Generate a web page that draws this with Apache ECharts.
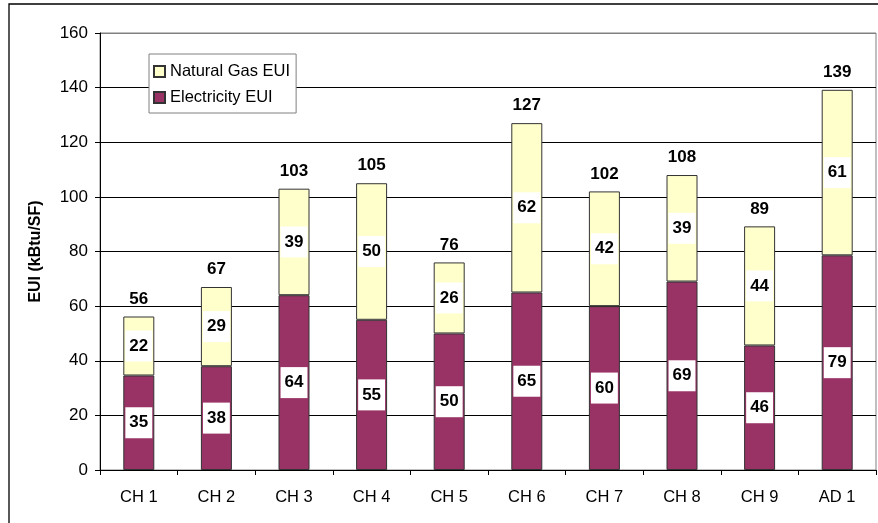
<!DOCTYPE html>
<html>
<head>
<meta charset="utf-8">
<script src="https://cdn.jsdelivr.net/npm/echarts@6/dist/echarts.min.js"></script>
<style>
  html, body { margin: 0; padding: 0; background: #fff; }
  #chart { width: 878px; height: 523px; }
</style>
</head>
<body>
<div id="chart"></div>
<script>
// Building energy use intensity, split by fuel
const categories = ['CH 1', 'CH 2', 'CH 3', 'CH 4', 'CH 5', 'CH 6', 'CH 7', 'CH 8', 'CH 9', 'AD 1'];
const electricityEUI = [34.6, 38, 64, 55, 50, 65, 60, 69, 45.6, 78.6];
const naturalGasEUI = [21.6, 29, 39, 50, 26, 62, 42, 39, 43.6, 60.6];
const yTicks = [0, 20, 40, 60, 80, 100, 120, 140, 160];

const totals = categories.map((_, i) => electricityEUI[i] + naturalGasEUI[i]);

const FONT = '"Liberation Sans", Arial, sans-serif';

const boxLabel = {
  show: true,
  position: 'inside',
  formatter: p => String(Math.round(p.value)),
  color: '#000',
  fontFamily: FONT,
  fontSize: 17,
  fontWeight: 'bold',
  backgroundColor: '#fff',
  padding: [7, 4, 7, 4]
};

const chart = echarts.init(document.getElementById('chart'), null, { renderer: 'canvas' });

chart.setOption({
  animation: false,
  backgroundColor: '#fff',
  graphic: [{
    type: 'rect',
    shape: { x: 9, y: 4, width: 1000, height: 1000 },
    style: { fill: 'none', stroke: '#000', lineWidth: 1.3 },
    silent: true,
    z: 100
  }],
  grid: {
    left: 100, right: 2, top: 33, bottom: 53,
    show: true, borderColor: '#808080', borderWidth: 1
  },
  legend: {
    data: ['Natural Gas EUI', 'Electricity EUI'],
    orient: 'vertical',
    left: 149, top: 54,
    backgroundColor: '#fff',
    borderColor: '#808080',
    borderWidth: 1,
    padding: [9, 6, 7, 4],
    itemWidth: 11, itemHeight: 11,
    itemGap: 9,
    icon: 'rect',
    textStyle: { fontFamily: FONT, fontSize: 16.5, color: '#000' },
    selectedMode: false
  },
  xAxis: {
    type: 'category',
    data: categories,
    boundaryGap: true,
    axisLine: { lineStyle: { color: '#000', width: 1 } },
    axisTick: { show: true, alignWithLabel: false, length: 5, lineStyle: { color: '#000' } },
    axisLabel: { fontFamily: FONT, fontSize: 16.5, color: '#000', margin: 19 }
  },
  yAxis: {
    type: 'value',
    min: yTicks[0],
    max: yTicks[yTicks.length - 1],
    interval: yTicks[1] - yTicks[0],
    name: 'EUI (kBtu/SF)',
    nameLocation: 'middle',
    nameRotate: 90,
    nameGap: 56,
    nameTextStyle: { fontFamily: FONT, fontSize: 16, fontWeight: 'bold', color: '#000' },
    axisLine: { show: true, lineStyle: { color: '#000', width: 1 } },
    axisTick: { show: true, length: 5, lineStyle: { color: '#000' } },
    axisLabel: { fontFamily: FONT, fontSize: 17, color: '#000', margin: 12 },
    splitLine: {
      show: true,
      lineStyle: { color: ['#000', '#000', '#000', '#000', '#000', '#000', '#000', '#000', '#808080'], width: 1 }
    }
  },
  series: [
    {
      name: 'Electricity EUI',
      type: 'bar',
      stack: 'eui',
      barWidth: 31,
      data: electricityEUI,
      itemStyle: { color: '#993366', borderColor: '#333', borderWidth: 1 },
      label: boxLabel
    },
    {
      name: 'Natural Gas EUI',
      type: 'bar',
      stack: 'eui',
      barWidth: 31,
      data: naturalGasEUI,
      itemStyle: { color: '#FFFFCC', borderColor: '#333', borderWidth: 1 },
      label: boxLabel
    },
    {
      name: 'Total',
      type: 'bar',
      stack: 'eui',
      barWidth: 31,
      silent: true,
      data: totals.map(() => 0),
      itemStyle: { color: 'rgba(0,0,0,0)', borderWidth: 0 },
      label: {
        show: true,
        position: 'top',
        distance: 9,
        formatter: p => String(Math.round(totals[p.dataIndex])),
        fontFamily: FONT,
        fontSize: 17,
        fontWeight: 'bold',
        color: '#000'
      }
    }
  ]
});
</script>
</body>
</html>
